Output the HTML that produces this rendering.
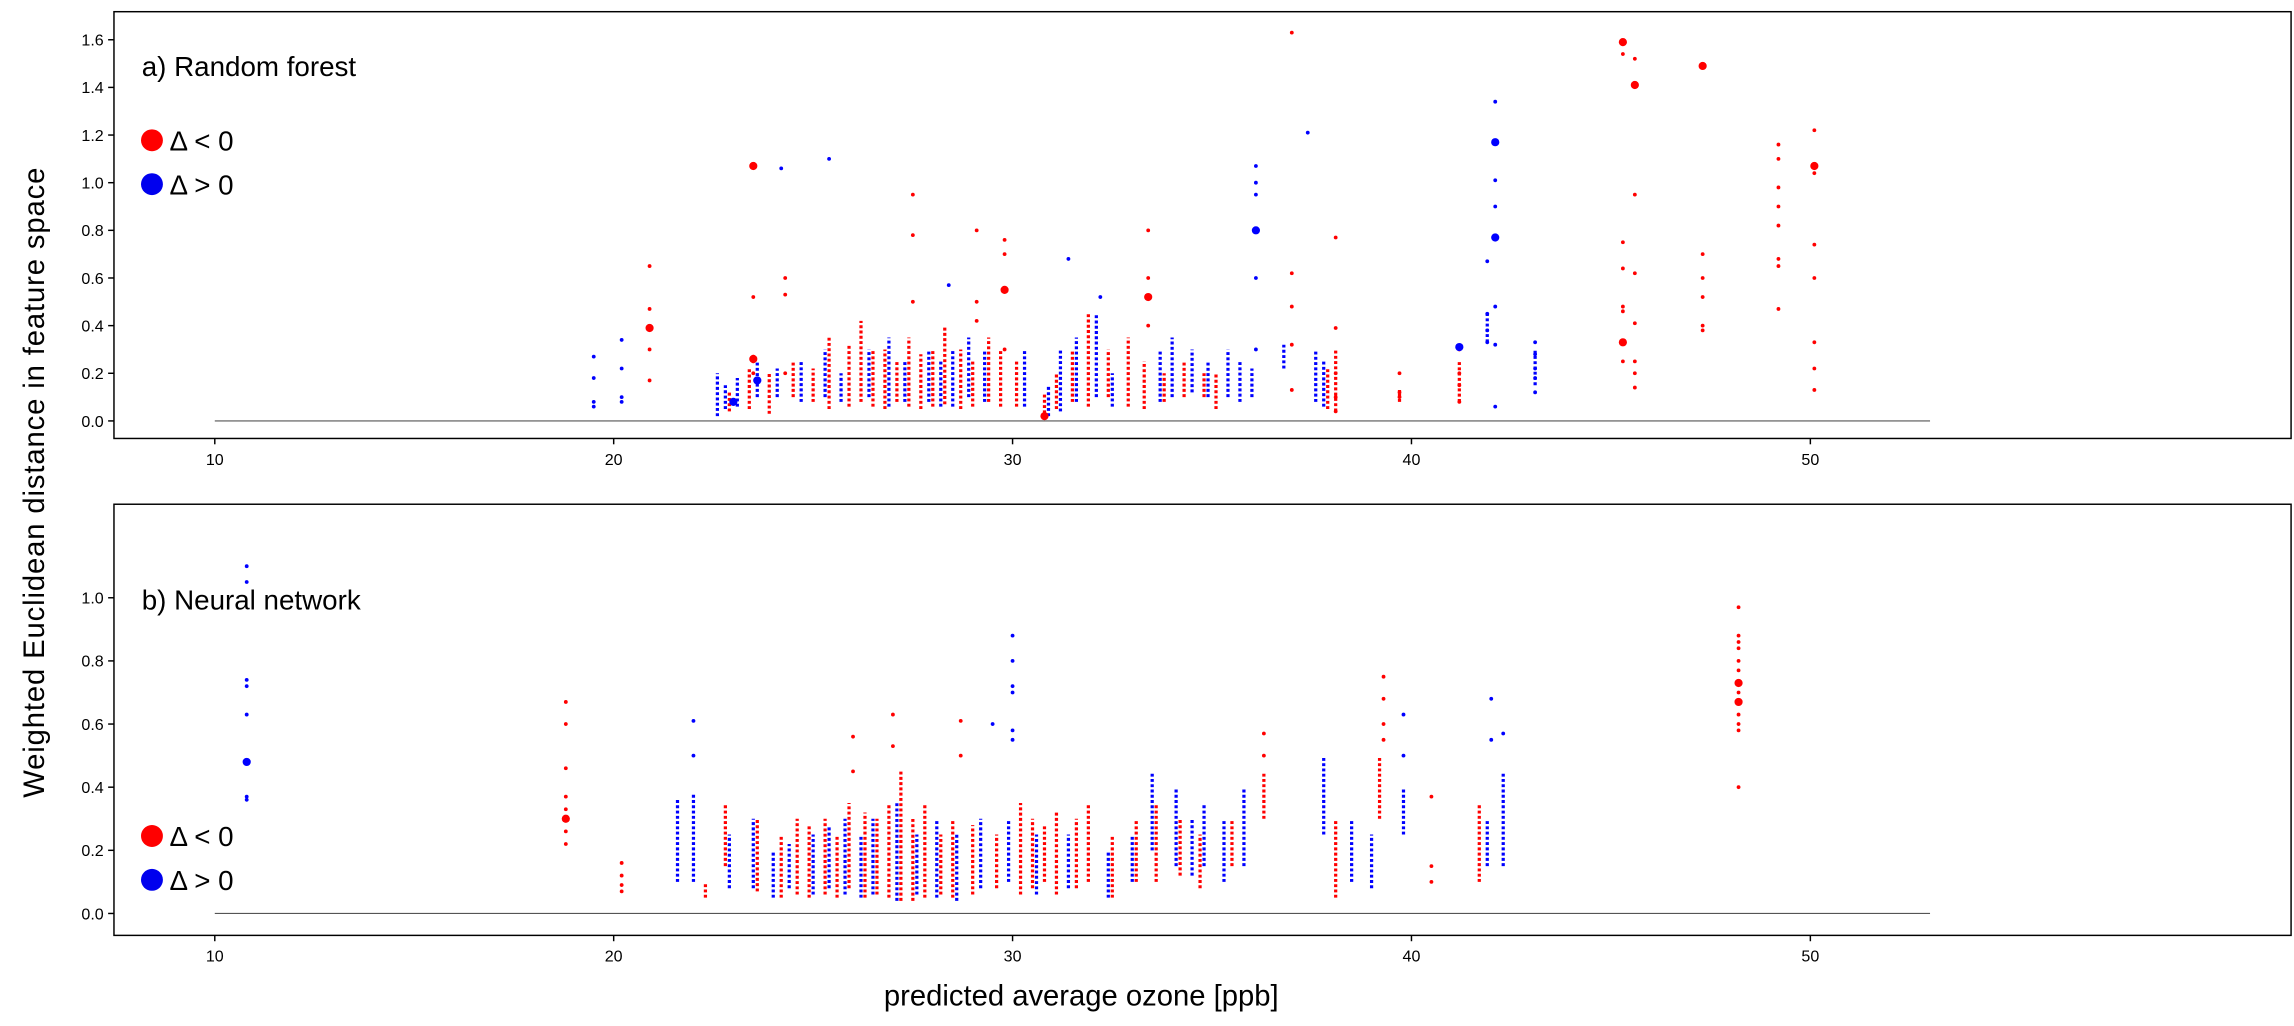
<!DOCTYPE html>
<html><head><meta charset="utf-8"><style>
html,body{margin:0;padding:0;background:#fff}
svg{display:block}
text{font-family:"Liberation Sans",sans-serif}
</style></head><body>
<svg id="chart" width="2294" height="1026" viewBox="0 0 1570 702" preserveAspectRatio="none" xmlns="http://www.w3.org/2000/svg">
<g id="topPanel"></g>
<g id="botPanel"></g>
<text transform="translate(30,330) rotate(-90)" text-anchor="middle" font-size="20" letter-spacing="0.6">Weighted Euclidean distance in feature space</text>
<text x="740" y="688" text-anchor="middle" font-size="20">predicted average ozone [ppb]</text>
</svg>
<script>
const xTicks=[10,20,30,40,50];
const topYTicks=[0.0,0.2,0.4,0.6,0.8,1.0,1.2,1.4,1.6];
const botYTicks=[0.0,0.2,0.4,0.6,0.8,1.0];
// Random forest isolated points: [x, y...]
const rfRed=[
[20.9,0.65,0.47,0.39,0.3,0.17],[23.5,1.07,0.52,0.27,0.25,0.2],[24.3,0.53,0.6,0.2],[27.5,0.95,0.78,0.5],[29.1,0.8,0.5,0.42],
[29.8,0.76,0.7,0.55,0.3],[33.4,0.8,0.6,0.52,0.4],[37,1.63,0.62,0.48,0.32,0.13],[38.1,0.77,0.39,0.2,0.1,0.04],
[39.7,0.2,0.12,0.1],[41.2,0.3,0.2,0.15,0.08],[45.3,1.59,1.54,0.75,0.64,0.48,0.46,0.33,0.25],[45.6,1.52,1.41,0.95,0.62,0.41,0.25,0.2,0.14],
[47.3,1.49,0.7,0.6,0.52,0.4,0.38],[49.2,1.16,1.1,0.98,0.9,0.82,0.68,0.65,0.47],[50.1,1.22,1.07,1.04,0.74,0.6,0.33,0.22,0.13]];
const rfBlue=[
[19.5,0.27,0.18,0.08,0.06],[20.2,0.34,0.22,0.1,0.08],[24.2,1.06],[25.4,1.1],[36.1,1.07,1.0,0.95,0.8,0.6,0.3],[37.4,1.21],
[41.9,0.67,0.45,0.38,0.33],[42.1,1.34,1.17,1.01,0.9,0.77,0.48,0.32,0.06],[43.1,0.33,0.28,0.22,0.18,0.12],[28.4,0.57],[31.4,0.68],[32.2,0.52]];
// Random forest dense strips: [x, low, high]
const rfRedStrips=[
[22.9,0.04,0.12],[23.4,0.05,0.22],[23.9,0.03,0.2],[24.5,0.1,0.25],[25.0,0.08,0.22],[25.4,0.05,0.35],[25.9,0.06,0.32],
[26.2,0.08,0.42],[26.5,0.06,0.3],[26.8,0.05,0.3],[27.1,0.08,0.25],[27.4,0.06,0.35],[27.7,0.05,0.28],[28.0,0.06,0.3],
[28.3,0.07,0.4],[28.7,0.05,0.3],[29.0,0.06,0.25],[29.4,0.08,0.35],[29.7,0.06,0.3],[30.1,0.06,0.25],[30.8,0.01,0.12],
[31.1,0.05,0.2],[31.5,0.08,0.3],[31.9,0.06,0.45],[32.4,0.1,0.3],[32.9,0.06,0.35],[33.3,0.05,0.25],[33.8,0.08,0.2],
[34.3,0.1,0.25],[34.8,0.1,0.2],[35.1,0.05,0.2],[37.9,0.05,0.22],[38.1,0.04,0.3],[39.7,0.08,0.13],[41.2,0.08,0.25]];
const rfBlueStrips=[
[22.6,0.02,0.2],[22.8,0.05,0.15],[23.1,0.06,0.18],[23.6,0.1,0.25],[24.1,0.1,0.22],[24.7,0.08,0.25],[25.3,0.1,0.3],
[25.7,0.08,0.2],[26.4,0.1,0.3],[26.9,0.06,0.35],[27.3,0.08,0.25],[27.9,0.08,0.3],[28.2,0.06,0.25],[28.5,0.06,0.3],
[28.9,0.1,0.35],[29.3,0.08,0.3],[30.3,0.06,0.3],[30.9,0.02,0.15],[31.2,0.04,0.3],[31.6,0.08,0.35],[32.1,0.1,0.45],
[32.5,0.06,0.2],[33.7,0.08,0.3],[34.0,0.1,0.35],[34.5,0.12,0.3],[34.9,0.1,0.25],[35.4,0.1,0.3],[35.7,0.08,0.25],
[36.0,0.1,0.22],[36.8,0.22,0.32],[37.6,0.08,0.3],[37.8,0.06,0.25],[41.9,0.33,0.45],[43.1,0.15,0.3]];
const rfBig=[[20.9,0.39,'r'],[23.5,0.26,'r'],[29.8,0.55,'r'],[33.4,0.52,'r'],[45.3,1.59,'r'],[45.6,1.41,'r'],[47.3,1.49,'r'],[50.1,1.07,'r'],[45.3,0.33,'r'],[36.1,0.8,'b'],[42.1,0.77,'b'],[42.1,1.17,'b'],[41.2,0.31,'b'],[23.5,1.07,'r'],[30.8,0.02,'r'],[23.0,0.08,'b'],[23.6,0.17,'b']];
// Neural network isolated points
const nnRed=[
[18.8,0.67,0.6,0.46,0.37,0.33,0.3,0.26,0.22],[20.2,0.16,0.12,0.09,0.07],[48.2,0.97,0.88,0.86,0.84,0.8,0.77,0.73,0.7,0.67,0.63,0.6,0.58,0.4],
[27.0,0.63,0.53],[28.7,0.61,0.5],[26.0,0.56,0.45],[36.3,0.57,0.5],[39.3,0.75,0.68,0.6,0.55],[40.5,0.37,0.15,0.1]];
const nnBlue=[
[10.8,1.1,1.05,0.74,0.72,0.63,0.48,0.37,0.36],[30.0,0.88,0.8,0.72,0.7,0.58,0.55],[22.0,0.61,0.5],[29.5,0.6],[39.8,0.63,0.5],[42.0,0.68,0.55],[42.3,0.57]];
// Neural network dense strips
const nnRedStrips=[
[22.3,0.05,0.1],[22.8,0.15,0.35],[23.6,0.07,0.3],[24.2,0.05,0.25],[24.6,0.06,0.3],[24.9,0.05,0.28],[25.3,0.06,0.3],
[25.6,0.05,0.25],[25.9,0.08,0.35],[26.3,0.05,0.32],[26.6,0.06,0.3],[26.9,0.05,0.35],[27.2,0.04,0.45],[27.5,0.04,0.3],
[27.8,0.05,0.35],[28.2,0.06,0.25],[28.5,0.05,0.3],[29.0,0.06,0.28],[29.6,0.08,0.25],[30.2,0.06,0.35],[30.5,0.08,0.3],
[30.8,0.1,0.28],[31.1,0.06,0.32],[31.6,0.08,0.3],[31.9,0.1,0.35],[32.5,0.05,0.25],[33.1,0.1,0.3],[33.6,0.1,0.35],
[34.2,0.12,0.3],[34.7,0.08,0.25],[35.5,0.15,0.3],[36.3,0.3,0.45],[38.1,0.05,0.3],[39.2,0.3,0.5],[41.7,0.1,0.35]];
const nnBlueStrips=[
[21.6,0.1,0.36],[22.0,0.1,0.38],[22.9,0.08,0.25],[23.5,0.08,0.3],[24.0,0.05,0.2],[24.4,0.08,0.22],[25.0,0.06,0.25],
[25.4,0.08,0.28],[25.8,0.06,0.3],[26.2,0.05,0.25],[26.5,0.06,0.3],[27.1,0.04,0.35],[27.6,0.06,0.25],[28.1,0.05,0.3],
[28.6,0.04,0.25],[29.2,0.08,0.3],[29.9,0.1,0.3],[30.6,0.06,0.25],[31.4,0.08,0.25],[32.4,0.05,0.2],[33.0,0.1,0.25],
[33.5,0.2,0.45],[34.1,0.15,0.4],[34.5,0.12,0.3],[34.8,0.15,0.35],[35.3,0.1,0.3],[35.8,0.15,0.4],[37.8,0.25,0.5],
[38.5,0.1,0.3],[39.0,0.08,0.25],[39.8,0.25,0.4],[41.9,0.15,0.3],[42.3,0.15,0.45]];
const nnBig=[[10.8,0.48,'b'],[18.8,0.3,'r'],[48.2,0.73,'r'],[48.2,0.67,'r']];

const NS='http://www.w3.org/2000/svg';
function mk(parent,tag,attrs){const e=document.createElementNS(NS,tag);for(const k in attrs)e.setAttribute(k,attrs[k]);parent.appendChild(e);return e;}
function xs(v){return 147+(v-10)*27.3;}
function drawPanel(g,top,bot,y0,ppu,yTicks,red,blue,redS,blueS,big,title,titleY,legY){
  const fr=mk(g,'rect',{x:78,y:top,width:1490,height:bot-top,fill:'none',stroke:'#000','stroke-width':1});
  
  
  const ys=v=>y0-v*ppu;
  xTicks.forEach(t=>{mk(g,'line',{x1:xs(t),x2:xs(t),y1:bot,y2:bot+4,stroke:'#000'});
    const tx=mk(g,'text',{x:xs(t),y:bot+18,'text-anchor':'middle','font-size':11});tx.textContent=t;
    
    });
  yTicks.forEach(t=>{mk(g,'line',{x1:74,x2:78,y1:ys(t),y2:ys(t),stroke:'#000'});
    const tx=mk(g,'text',{x:71,y:ys(t)+4,'text-anchor':'end','font-size':11});tx.textContent=t.toFixed(1);
    
    });
  mk(g,'line',{x1:xs(10),x2:xs(53),y1:ys(0),y2:ys(0),stroke:'#555','stroke-width':0.8});
  function strips(arr,color,name){
    arr.forEach(s=>{const l=mk(g,'line',{x1:xs(s[0]),x2:xs(s[0]),y1:ys(s[1]),y2:ys(s[2]),stroke:color,'stroke-width':2.2,'stroke-dasharray':'2 1.6'});
      
      });
  }
  function series(cols,color,name){
    cols.forEach(c=>{for(let i=1;i<c.length;i++){
      const d=mk(g,'circle',{cx:xs(c[0]),cy:ys(c[i]),r:1.3,fill:color});
      
      }});
  }
  strips(redS,'#f00','strip-delta-negative');strips(blueS,'#00f','strip-delta-positive');
  series(red,'#f00','point-delta-negative');series(blue,'#00f','point-delta-positive');
  big.forEach(b=>{const d=mk(g,'circle',{cx:xs(b[0]),cy:ys(b[1]),r:2.8,fill:b[2]=='r'?'#f00':'#00f'});
    
    });
  const t=mk(g,'text',{x:97,y:titleY,'font-size':19});t.textContent=title;
  
  
  [['#f00','Δ < 0',0],['#0000ee','Δ > 0',30]].forEach(l=>{
    const c=mk(g,'circle',{cx:104,cy:legY+l[2],r:7.5,fill:l[0]});
    
    
    const tx=mk(g,'text',{x:116,y:legY+l[2]+7,'font-size':19});tx.textContent=l[1];
    
    });
}
drawPanel(document.getElementById('topPanel'),8,300,288,163,topYTicks,rfRed,rfBlue,rfRedStrips,rfBlueStrips,rfBig,'a) Random forest',52,96);
drawPanel(document.getElementById('botPanel'),345,640,625,216,botYTicks,nnRed,nnBlue,nnRedStrips,nnBlueStrips,nnBig,'b) Neural network',417,572);
</script>
</body></html>
